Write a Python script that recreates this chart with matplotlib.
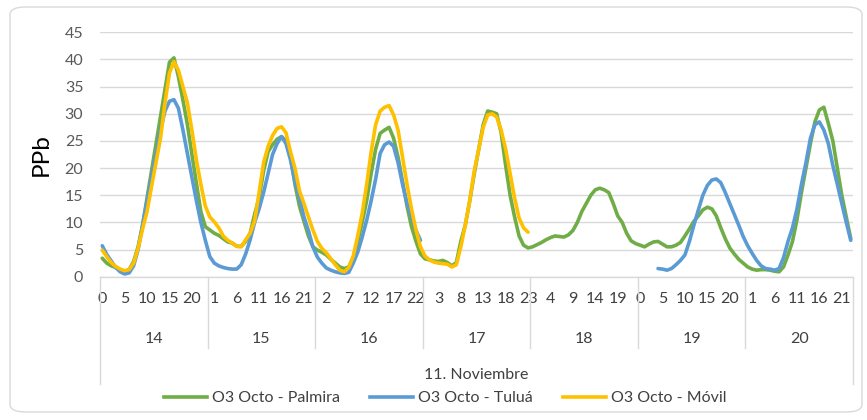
import matplotlib
matplotlib.use("Agg")
import matplotlib.pyplot as plt
from matplotlib.lines import Line2D
from matplotlib.patches import FancyBboxPatch
import matplotlib.transforms as mtransforms
import numpy as np

plt.rcParams['font.family'] = ['Lato', 'DejaVu Sans']

# ---------------- data ----------------
days = ["14", "15", "16", "17", "18", "19", "20"]
hour_labels = ["0", "5", "10", "15", "20",
               "1", "6", "11", "16", "21",
               "2", "7", "12", "17", "22",
               "3", "8", "13", "18", "23",
               "4", "9", "14", "19",
               "0", "5", "10", "15", "20",
               "1", "6", "11", "16", "21"]
axis_title = "11. Noviembre"
y_label = "PPb"
series_names = ["O3 Octo - Palmira", "O3 Octo - Tuluá", "O3 Octo - Móvil"]

palmira = [
    # 14
    3.4, 2.5, 2.0, 1.7, 1.3, 1.0, 1.3, 2.8, 5.5, 9.5, 14.5, 19.5,
    24.5, 29.5, 34.5, 39.5, 40.3, 36.8, 32.5, 28.0, 22.5, 17.3, 12.0, 9.2,
    # 15
    8.6, 8.0, 7.6, 7.0, 6.4, 6.2, 5.6, 5.6, 6.5, 8.0, 11.5, 14.5,
    19.5, 23.0, 24.3, 25.3, 25.8, 25.0, 22.0, 17.0, 13.0, 10.2, 7.5, 5.5,
    # 16
    4.9, 4.5, 4.0, 3.2, 2.5, 1.8, 1.5, 1.8, 3.5, 6.5, 10.0, 14.0,
    19.0, 23.5, 26.4, 27.0, 27.5, 25.5, 22.0, 17.5, 13.0, 9.2, 6.5, 4.2,
    # 17
    3.3, 3.1, 2.9, 2.8, 3.0, 2.6, 2.0, 2.6, 6.5, 9.5, 14.0, 19.0,
    23.5, 28.0, 30.5, 30.3, 30.0, 26.5, 20.5, 15.0, 11.0, 7.5, 5.8, 5.3,
    # 18
    5.5, 5.9, 6.3, 6.8, 7.2, 7.5, 7.4, 7.3, 7.7, 8.5, 10.0, 12.0,
    13.5, 15.0, 16.0, 16.3, 16.0, 15.5, 13.5, 11.2, 10.0, 8.0, 6.6, 6.1,
    # 19
    5.8, 5.5, 6.0, 6.4, 6.5, 6.0, 5.5, 5.5, 5.8, 6.3, 7.5, 8.8,
    10.2, 11.2, 12.3, 12.8, 12.5, 11.2, 9.0, 7.0, 5.3, 4.2, 3.2, 2.5,
    # 20
    1.8, 1.4, 1.2, 1.3, 1.3, 1.2, 1.0, 0.9, 1.8, 4.0, 6.5, 10.5,
    15.5, 20.0, 24.5, 28.5, 30.7, 31.2, 28.2, 25.0, 20.0, 15.0, 11.0, 7.0,
]

tulua = [
    # 14
    5.7, 4.1, 2.9, 1.7, 0.9, 0.5, 0.7, 2.0, 5.0, 9.5, 14.0, 18.5,
    22.5, 27.0, 30.5, 32.3, 32.6, 31.0, 27.0, 22.7, 18.5, 14.0, 10.0, 6.7,
    # 15
    3.7, 2.5, 2.0, 1.7, 1.5, 1.4, 1.4, 2.2, 4.2, 6.8, 10.0, 12.5,
    15.5, 19.0, 22.5, 24.5, 25.8, 24.5, 21.5, 17.5, 14.5, 11.0, 8.5, 5.5,
    # 16
    3.6, 2.5, 1.6, 1.2, 0.9, 0.7, 0.6, 0.8, 2.5, 4.5, 7.3, 10.4,
    14.0, 18.0, 22.7, 24.3, 24.8, 24.0, 21.0, 17.0, 13.5, 11.0, 8.5, 6.7,
    # 17
    None, None, None, None, None, None, None, None, None, None, None, None,
    None, None, None, None, None, None, None, None, None, None, None, None,
    # 18
    None, None, None, None, None, None, None, None, None, None, None, None,
    None, None, None, None, None, None, None, None, None, None, None, None,
    # 19
    None, None, None, None, 1.5, 1.4, 1.2, 1.5, 2.2, 3.0, 4.0, 6.5,
    9.5, 12.3, 15.0, 16.8, 17.8, 18.0, 17.3, 15.5, 13.5, 11.5, 9.5, 7.4,
    # 20
    5.7, 4.3, 3.0, 2.0, 1.5, 1.4, 1.2, 1.5, 3.5, 6.5, 9.0, 12.5,
    17.0, 21.0, 25.5, 28.0, 28.5, 27.0, 24.5, 20.5, 17.0, 13.5, 10.0, 6.7,
]

movil = [
    # 14
    4.9, 3.7, 2.6, 1.9, 1.4, 1.1, 1.3, 2.5, 5.2, 8.8, 12.0, 16.6,
    21.0, 25.5, 32.0, 37.5, 39.6, 38.0, 35.0, 32.0, 27.0, 21.5, 17.0, 13.0,
    # 15
    11.0, 10.1, 9.0, 7.5, 6.7, 6.2, 5.6, 5.5, 6.8, 8.0, 10.3, 15.5,
    21.0, 24.0, 26.0, 27.3, 27.6, 26.5, 23.0, 20.0, 15.8, 13.5, 11.0, 8.6,
    # 16
    6.5, 5.2, 4.4, 3.3, 2.2, 1.2, 0.9, 1.7, 3.8, 7.5, 11.7, 17.0,
    23.0, 28.0, 30.5, 31.2, 31.5, 29.8, 27.0, 22.0, 17.0, 12.5, 8.6, 5.5,
    # 17
    3.8, 3.1, 2.7, 2.5, 2.4, 2.3, 1.8, 2.2, 5.5, 9.5, 14.0, 19.5,
    23.5, 27.5, 29.8, 30.0, 29.4, 27.0, 23.5, 19.0, 14.5, 10.8, 9.0, 8.2,
    # 18-20
] + [None] * 72

colors = ["#70AD47", "#5B9BD5", "#FFC000"]

# ---------------- figure ----------------
W, H = 867, 420
fig = plt.figure(figsize=(W / 100, H / 100), dpi=100)

# rounded chart border
border = FancyBboxPatch((10 / W, 8 / H), 852 / W, 405 / H,
                        boxstyle="round,pad=0,rounding_size=0.018",
                        transform=fig.transFigure, facecolor="none",
                        edgecolor="#D9D9D9", linewidth=1.0, zorder=-5)
fig.patches.append(border)

ax_l, ax_r = 100 / W, 853 / W
ax_b, ax_t = 1 - 276.7 / H, 1 - 32.3 / H
ax = fig.add_axes([ax_l, ax_b, ax_r - ax_l, ax_t - ax_b])
ax.set_facecolor("none")

n = len(palmira)
x = np.arange(n)


def arr(v):
    return np.array([np.nan if a is None else a for a in v], dtype=float)


for vals, c, name in zip([palmira, tulua, movil], colors, series_names):
    ax.plot(x, arr(vals), color=c, lw=2.6, label=name,
            solid_capstyle="round", solid_joinstyle="round", zorder=3)

ax.set_xlim(-0.5, n - 0.5)
ax.set_ylim(0, 45)
ax.set_yticks(np.arange(0, 46, 5))
ax.yaxis.grid(True, color="#D9D9D9", lw=1.0)
ax.set_axisbelow(True)
for s in ["top", "right", "left"]:
    ax.spines[s].set_visible(False)
ax.spines["bottom"].set_color("#D9D9D9")
ax.spines["bottom"].set_linewidth(1.0)
ax.tick_params(axis="y", length=0, pad=12, labelsize=11.5, labelcolor="#595959")

ax.set_xticks(np.arange(0, n, 5))
ax.set_xticklabels(hour_labels)
ax.tick_params(axis="x", length=0, pad=11, labelsize=11.5, labelcolor="#404040")

ax.set_ylabel(y_label, fontsize=17.5, color="#000000")
ax.yaxis.set_label_coords(-0.064, 0.5)

axh = (ax_t - ax_b) * H  # axes height in px
trans = mtransforms.blended_transform_factory(ax.transData, ax.transAxes)

# day separators
for k in range(len(days) + 1):
    xb = -0.5 + 24 * k
    ybot = -107 / axh if k in (0, len(days)) else -71 / axh
    ax.plot([xb, xb], [0, ybot], transform=trans, color="#D9D9D9", lw=1.0,
            clip_on=False, zorder=1)

for k, d in enumerate(days):
    ax.text(11.5 + 24 * k, -62 / axh, d, transform=trans, ha="center",
            va="center", fontsize=11.5, color="#404040")

ax.text(0.5, -98 / axh, axis_title, transform=ax.transAxes, ha="center",
        va="center", fontsize=11.5, color="#404040")

handles = [Line2D([0], [0], color=c, lw=2.6) for c in colors]
fig.legend(handles, series_names, loc="center", ncol=3,
           bbox_to_anchor=(445 / W, 1 - 398 / H), frameon=False,
           fontsize=11.5, handlelength=2.7, handletextpad=0.3,
           columnspacing=1.9, labelcolor="#404040")

fig.savefig("out.png", dpi=100)
